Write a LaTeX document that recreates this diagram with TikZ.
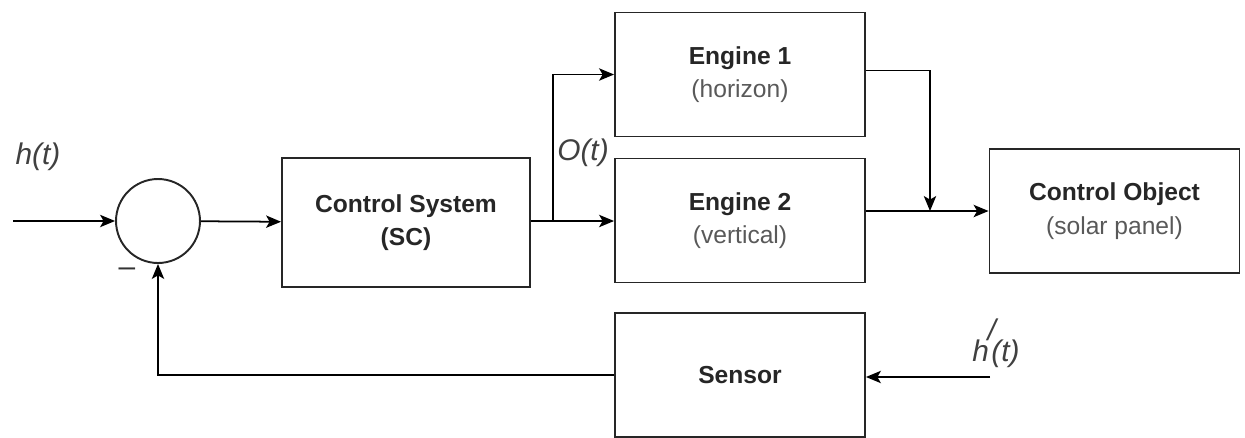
\documentclass[tikz,border=0pt]{standalone}
\usepackage{fontspec}
\setmainfont{Liberation Sans}
\usetikzlibrary{arrows.meta}
\usetikzlibrary{positioning}
\usetikzlibrary{calc}

\begin{document}
\begin{tikzpicture}[x=0.02cm,y=-0.02cm,
    blk/.style={rectangle,draw=black!85,line width=1.1pt,minimum width=5cm,minimum height=2.48cm,
      align=center,font=\fontsize{14}{19}\selectfont\bfseries,text=black!85},
    lbl/.style={font=\fontsize{17}{20}\selectfont\itshape,text=black!75},
    wire/.style={draw=black,line width=1pt,-{Stealth[length=8.5pt,width=7pt,inset=2pt]}}]
    \useasboundingbox (0,0) rectangle (1245,437);
    \begin{scope}[every node/.style={blk}]
      \node[circle,minimum size=1.68cm] (sum) at (158,221) {};
      \node[minimum width=4.96cm,minimum height=2.58cm] (cs) at (406,222.5) {Control System\\(SC)};
      \node (eng1) at (740,74.5) {Engine 1\\\mdseries\color{black!65}(horizon)};
      \node (eng2) at (740,220.5) {Engine 2\\\mdseries\color{black!65}(vertical)};
      \node (obj) at (1114.5,211) {Control Object\\\mdseries\color{black!65}(solar panel)};
      \node (sensor) at (740,375) {Sensor};
    \end{scope}
    \coordinate (in) at (13,221);
    \coordinate (split) at (553,221);
    \coordinate (join) at (930,211);
    \coordinate (meas) at (990,377);
    % forward path
    \draw[wire] (in) -- (sum);
    \draw[wire] (sum) -- (cs);
    \draw[line width=1pt] (cs.east |- split) -- (split);
    \draw[wire] (split) -- (split -| eng2.west);
    \draw[wire] (split) |- (eng1.west);
    \draw[wire] ([yshift=0.08cm]eng1.east) -| (join);
    \draw[wire] (eng2.east |- obj.west) -- (obj.west);
    % feedback
    \draw[wire] (meas) -- (meas -| sensor.east);
    \draw[wire] (sensor.west) -| (sum.south);
    % labels
    \node[lbl] (hin) at (38,157) {h(t)};
    \node[lbl] (ot) at (583,153) {O(t)};
    \node[lbl] (hout) at (996,343) {h\kern-0.05em\raisebox{0.7em}{/}\kern-0.15em(t)};
    \node[font=\fontsize{17}{20}\selectfont,text=black!80] (minus) at (127,272) {\textendash};
\end{tikzpicture}
\end{document}
